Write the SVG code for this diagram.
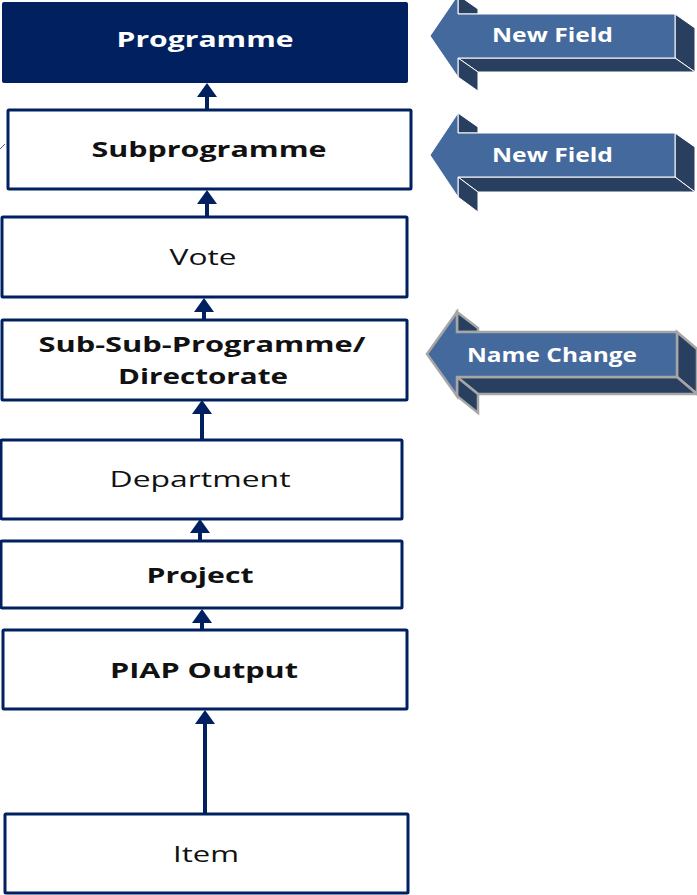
<svg xmlns="http://www.w3.org/2000/svg" width="697" height="895" viewBox="0 0 697 895">
<style>
.box{fill:#ffffff;stroke:#002060;stroke-width:3}
.t{font-family:"Open Sans","Liberation Sans",sans-serif;font-size:22px;fill:#111111;text-anchor:middle}
.b{font-weight:bold}
.w{fill:#ffffff}
.conn{stroke:#002060;stroke-width:4;fill:none}
.front{fill:#44699c;stroke:#ffffff;stroke-width:1}
.dark{fill:#283f5f;stroke:#ffffff;stroke-width:1}
.gfront{fill:#44699c;stroke:#a6a6a6;stroke-width:2.5}
.gdark{fill:#283f5f;stroke:#a6a6a6;stroke-width:2.5}
.at{font-family:"Open Sans","Liberation Sans",sans-serif;font-size:19px;font-weight:bold;fill:#ffffff}
</style>
<defs>
<marker id="ah" markerUnits="userSpaceOnUse" markerWidth="14" markerHeight="20" refX="0" refY="10" orient="auto" viewBox="0 0 14 20">
<path d="M0,0 L14,10 L0,20 z" fill="#002060"/>
</marker>
</defs>
<rect width="697" height="895" fill="#ffffff"/>
<line x1="0" y1="149" x2="5" y2="144" stroke="#4a6a9a" stroke-width="1"/>
<g id="connectors">
<line class="conn" x1="207" y1="109" x2="207" y2="97" marker-end="url(#ah)"/>
<line class="conn" x1="207" y1="216" x2="207" y2="204" marker-end="url(#ah)"/>
<line class="conn" x1="204" y1="319" x2="204" y2="312" marker-end="url(#ah)"/>
<line class="conn" x1="202" y1="439" x2="202" y2="414" marker-end="url(#ah)"/>
<line class="conn" x1="200" y1="540" x2="200" y2="533" marker-end="url(#ah)"/>
<line class="conn" x1="202" y1="629" x2="202" y2="623" marker-end="url(#ah)"/>
<line class="conn" x1="205" y1="813" x2="205" y2="724" marker-end="url(#ah)"/>
</g>
<g id="programme">
<rect x="2" y="2" width="406" height="81" rx="2" fill="#002060"/>
<text class="t b w" x="205" y="47" font-size="24" textLength="177" lengthAdjust="spacingAndGlyphs">Programme</text>
</g>
<g id="subprogramme">
<rect class="box" x="8" y="110" width="403" height="79" rx="1"/>
<text class="t b" x="209" y="157" textLength="235" lengthAdjust="spacingAndGlyphs">Subprogramme</text>
</g>
<g id="vote">
<rect class="box" x="2" y="217" width="405" height="80" rx="1"/>
<text class="t" x="203" y="265" textLength="67" lengthAdjust="spacingAndGlyphs">Vote</text>
</g>
<g id="subsubprogramme">
<rect class="box" x="2" y="320" width="405" height="80" rx="1"/>
<text class="t b" x="202" y="352" textLength="327" lengthAdjust="spacingAndGlyphs">Sub-Sub-Programme/</text>
<text class="t b" x="203" y="384" textLength="170" lengthAdjust="spacingAndGlyphs">Directorate</text>
</g>
<g id="department">
<rect class="box" x="1" y="440" width="401" height="79" rx="1"/>
<text class="t" x="200" y="487" textLength="181" lengthAdjust="spacingAndGlyphs">Department</text>
</g>
<g id="project">
<rect class="box" x="1" y="541" width="401" height="67" rx="1"/>
<text class="t b" x="200" y="583" textLength="107" lengthAdjust="spacingAndGlyphs">Project</text>
</g>
<g id="piap-output">
<rect class="box" x="3" y="630" width="404" height="79" rx="1"/>
<text class="t b" x="204" y="678" textLength="188" lengthAdjust="spacingAndGlyphs">PIAP Output</text>
</g>
<g id="item">
<rect class="box" x="5" y="814" width="403" height="79" rx="1"/>
<text class="t" x="206" y="862" textLength="66" lengthAdjust="spacingAndGlyphs">Item</text>
</g>
<g id="new-field-1">
<polygon class="dark" points="458,-5 478,9 478,14 458,14"/>
<polygon class="dark" points="675,14 695,28 695,72 675,58"/>
<polygon class="dark" points="458,58 675,58 695,72 478,72"/>
<polygon class="dark" points="458,58 478,72 478,91 458,77"/>
<polygon class="front" points="430,36 458,-5 458,14 675,14 675,58 458,58 458,77"/>
<text class="at" x="492" y="42" textLength="121" lengthAdjust="spacingAndGlyphs">New Field</text>
</g>
<g id="new-field-2">
<polygon class="dark" points="458,113 478,127 478,133 458,133"/>
<polygon class="dark" points="675,133 695,147 695,192 675,177"/>
<polygon class="dark" points="458,177 675,177 695,192 478,192"/>
<polygon class="dark" points="458,177 478,192 478,212 458,197"/>
<polygon class="front" points="430,155 458,113 458,133 675,133 675,177 458,177 458,197"/>
<text class="at" x="492" y="162" textLength="121" lengthAdjust="spacingAndGlyphs">New Field</text>
</g>
<g id="name-change">
<polygon class="gdark" points="457,312 478,328 478,332 457,332"/>
<polygon class="gdark" points="677,332 697,349 697,394 677,377"/>
<polygon class="gdark" points="457,377 677,377 697,394 478,394"/>
<polygon class="gdark" points="457,377 478,394 478,413 457,396"/>
<polygon class="gfront" points="427,354 457,312 457,332 677,332 677,377 457,377 457,396"/>
<text class="at" x="467" y="362" textLength="170" lengthAdjust="spacingAndGlyphs">Name Change</text>
</g>
</svg>
